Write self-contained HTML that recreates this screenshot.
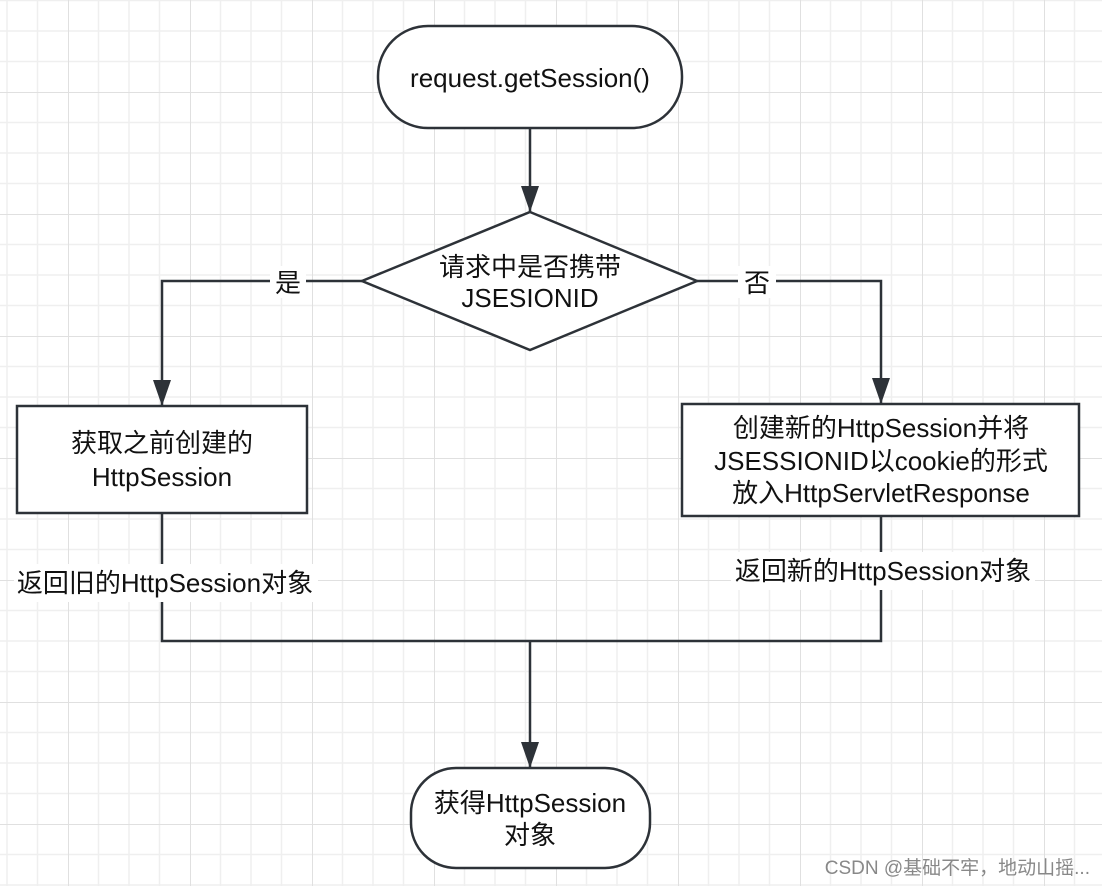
<!DOCTYPE html>
<html><head><meta charset="utf-8"><style>
html,body{margin:0;padding:0;background:#fff;}
svg{display:block;}
text{font-family:"Liberation Sans","Noto Sans CJK SC",sans-serif;fill:#111;}
</style></head><body>
<svg width="1102" height="886" viewBox="0 0 1102 886" xmlns="http://www.w3.org/2000/svg">
<defs>
<pattern id="g" x="68" y="92" width="122" height="122" patternUnits="userSpaceOnUse">
<path d="M30.5 0V122M61 0V122M91.5 0V122M0 30.5H122M0 61H122M0 91.5H122" stroke="#efefef" stroke-width="1.5"/>
<path d="M0 0V122M0 0H122" stroke="#e0e0e0" stroke-width="2"/>
</pattern>
<marker id="b" viewBox="0 0 26 18" refX="26" refY="9" markerWidth="26" markerHeight="18" orient="auto" markerUnits="userSpaceOnUse"><path d="M0 0L26 9L0 18Z" fill="#2d3238"/></marker>
</defs>
<rect width="1102" height="886" fill="url(#g)"/>
<g stroke="#2d3238" stroke-width="2.5" fill="none">
<rect x="378" y="26" width="304" height="102" rx="50" fill="#fff"/>
<line x1="530" y1="128" x2="530" y2="212" marker-end="url(#b)"/>
<polygon points="530,212 697,281 530,350 362,281" fill="#fff"/>
<polyline points="362,281 162,281 162,406" marker-end="url(#b)"/>
<polyline points="697,281 881,281 881,404" marker-end="url(#b)"/>
<rect x="17" y="406" width="290" height="107" fill="#fff"/>
<rect x="682" y="404" width="397" height="112" fill="#fff"/>
<polyline points="162,513 162,641 881,641 881,516"/>
<line x1="530" y1="641" x2="530" y2="768" marker-end="url(#b)"/>
<rect x="411" y="768" width="239" height="100" rx="45" fill="#fff"/>
</g>
<rect x="270" y="266" width="36" height="32" fill="#fff"/>
<rect x="738" y="266" width="38" height="32" fill="#fff"/>
<rect x="14" y="564" width="304" height="38" fill="#fff"/>
<rect x="731" y="552" width="304" height="38" fill="#fff"/>
<g font-size="26" text-anchor="middle">
<text x="530" y="87">request.getSession()</text>
<text x="530" y="276">请求中是否携带</text>
<text x="530" y="307">JSESIONID</text>
<text x="288" y="292">是</text>
<text x="757" y="292">否</text>
<text x="162" y="452">获取之前创建的</text>
<text x="162" y="486">HttpSession</text>
<text x="881" y="437">创建新的HttpSession并将</text>
<text x="881" y="470">JSESSIONID以cookie的形式</text>
<text x="881" y="502">放入HttpServletResponse</text>
<text x="165" y="592">返回旧的HttpSession对象</text>
<text x="883" y="580">返回新的HttpSession对象</text>
<text x="530" y="812">获得HttpSession</text>
<text x="530" y="844">对象</text>
</g>
<text x="1090" y="874" font-size="19" text-anchor="end" style="fill:#888">CSDN @基础不牢，地动山摇...</text>
</svg>
</body></html>
